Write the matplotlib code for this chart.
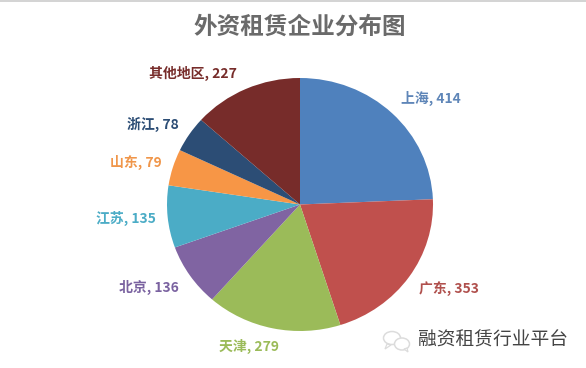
import matplotlib
matplotlib.use("Agg")
from matplotlib import pyplot as plt
from matplotlib.patches import Ellipse, Polygon, Rectangle

plt.rcParams['font.family'] = ['Noto Sans CJK SC', 'DejaVu Sans']

W, H = 586, 368

regions = ["上海", "广东", "天津", "北京", "江苏", "山东", "浙江", "其他地区"]
counts = [414, 353, 279, 136, 135, 79, 78, 227]
colors = ["#4F81BD", "#C0504D", "#9BBB59", "#8064A2", "#4BACC6", "#F79646", "#2C4D75", "#772C2A"]

# label centres in reference pixels
label_x = [431, 449, 249, 149, 126, 136, 153, 193]
label_y = [98, 289, 346, 287, 218, 162, 124, 73]
label_colors = ["#5F86B8", "#B0504D", "#9BBB59", "#7A62A0", "#4BACC6", "#F0964A", "#2C4D75", "#772C2A"]


def px(x, y):
    return x / W, 1 - y / H


fig = plt.figure(figsize=(W / 100, H / 100), dpi=100)

# the pie is slightly squashed in the screenshot: 133 px wide radius, 126.5 px high
ax = fig.add_axes([(300 - 133) / W, 1 - 331 / H, 266 / W, 253 / H])
ax.pie(counts, colors=colors, startangle=90, counterclock=False, radius=1)
ax.set_aspect("auto")
ax.set_xlim(-1, 1)
ax.set_ylim(-1, 1)

# thin grey strip along the top of the screenshot
fig.add_artist(Rectangle((0, 1 - 2 / H), 1, 2 / H, transform=fig.transFigure, color="#D4D4D4", lw=0))

x, y = px(300, 27)
fig.text(x, y, "外资租赁企业分布图", fontsize=17, fontweight="bold", color="#6A6A6A", ha="center", va="center")

for name, n, lx, ly, c in zip(regions, counts, label_x, label_y, label_colors):
    x, y = px(lx, ly)
    fig.text(x, y, f"{name}, {n}", fontsize=10, fontweight="bold", color=c, ha="center", va="center")

# watermark
x, y = px(493, 340)
fig.text(x, y, "融资租赁行业平台", fontsize=13.5, color="#444444", ha="center", va="center")

# wechat style icon, pixel coordinates
icon = fig.add_axes([0, 0, 1, 1], facecolor="none")
icon.set_xlim(0, W)
icon.set_ylim(H, 0)
icon.axis("off")
for cx, cy, ew, eh in [(392, 338, 17, 13), (402, 344, 15, 12)]:
    icon.add_patch(Ellipse((cx, cy), ew, eh, fc="white", ec="#DCDCDC", lw=1.1))
icon.add_patch(Polygon([(387, 344), (385, 349), (391, 345)], fc="white", ec="#DCDCDC", lw=0.9))
icon.add_patch(Polygon([(404, 349), (408, 352), (407, 348)], fc="white", ec="#DCDCDC", lw=0.9))

fig.savefig("out.png", dpi=100)
